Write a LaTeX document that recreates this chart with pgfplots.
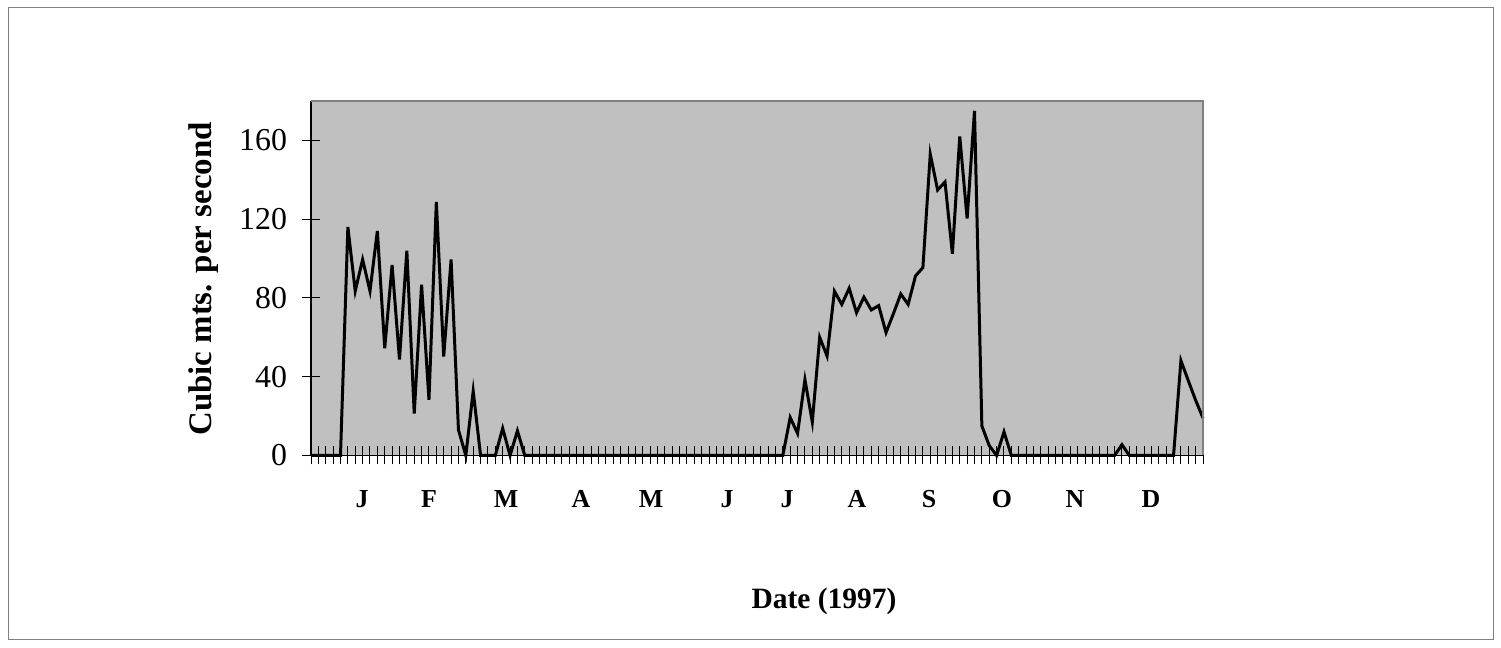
\documentclass[border=0pt]{standalone}
\usepackage{fontspec}
\setmainfont{Liberation Serif}
\usepackage{pgfplots}
\pgfplotsset{compat=1.18}
\definecolor{plotgray}{RGB}{192,192,192}
\definecolor{framegray}{RGB}{128,128,128}
\begin{document}
\begin{tikzpicture}[x=0.5bp,y=0.5bp]
\useasboundingbox (0,0) rectangle (1501,648);
\draw[framegray, line width=0.5bp] (8,8) rectangle (1493,640);
\begin{axis}[
  at={(155.5bp,96.25bp)}, anchor=south west,
  scale only axis, width=446bp, height=177.25bp,
  xmin=0, xmax=121, ymin=0, ymax=180,
  clip=false,
  axis lines=left, axis line style={-, line width=0.8bp, black},
  axis background/.style={fill=plotgray},
  xtick={0,...,121}, xticklabels={},
  ytick={0,40,80,120,160},
  tick align=center, major tick length=9bp,
  tick style={black, line width=0.5bp},
  /pgf/number format/assume math mode=true,
  yticklabel style={font=\fontsize{16}{18}\selectfont, xshift=-4bp},
  extra x ticks={6.92,16.01,26.46,36.63,46.12,56.43,64.57,74.07,83.84,93.72,103.62,113.93},
  extra x tick labels={J,F,M,A,M,J,J,A,S,O,N,D},
  extra x tick style={major tick length=0pt, tick label style={font=\bfseries\fontsize{13}{15}\selectfont, anchor=base, yshift=-26.25bp}},
]
\addplot[black, line width=1.5bp, line join=miter, mark=none] table {
x y
0 0
1 0
2 0
3 0
4 0
5 116
6 83.5
7 99.5
8 83.5
9 114
10 54.5
11 96.7
12 48.7
13 104
14 21.3
15 86.7
16 28.3
17 128.7
18 50.2
19 99.5
20 13
21 0
22 32.7
23 0
24 0
25 0
26 13.8
27 0
28 12.5
29 0
30 0
31 0
32 0
33 0
34 0
35 0
36 0
37 0
38 0
39 0
40 0
41 0
42 0
43 0
44 0
45 0
46 0
47 0
48 0
49 0
50 0
51 0
52 0
53 0
54 0
55 0
56 0
57 0
58 0
59 0
60 0
61 0
62 0
63 0
64 0
65 19.3
66 11.2
67 38.5
68 17
69 60
70 50.5
71 83.4
72 76.7
73 84.9
74 72.5
75 80.4
76 73.9
77 76.1
78 62.4
79 72
80 82
81 76.7
82 91.2
83 95.4
84 153
85 134.8
86 138.9
87 102.4
88 162
89 120.3
90 175
91 15
92 5
93 0
94 12
95 0
96 0
97 0
98 0
99 0
100 0
101 0
102 0
103 0
104 0
105 0
106 0
107 0
108 0
109 0
110 5.5
111 0
112 0
113 0
114 0
115 0
116 0
117 0
118 48.2
119 38
120 28
121 19
};
\draw[framegray, line width=1bp] (rel axis cs:0,1) -- (rel axis cs:1,1) -- (rel axis cs:1,0);
\end{axis}
\node[rotate=90, font=\bfseries\fontsize{16.5}{18}\selectfont] at (204,369) {Cubic mts. per second};
\node[font=\bfseries\fontsize{14.8}{17}\selectfont] at (824,47) {Date (1997)};
\end{tikzpicture}
\end{document}
